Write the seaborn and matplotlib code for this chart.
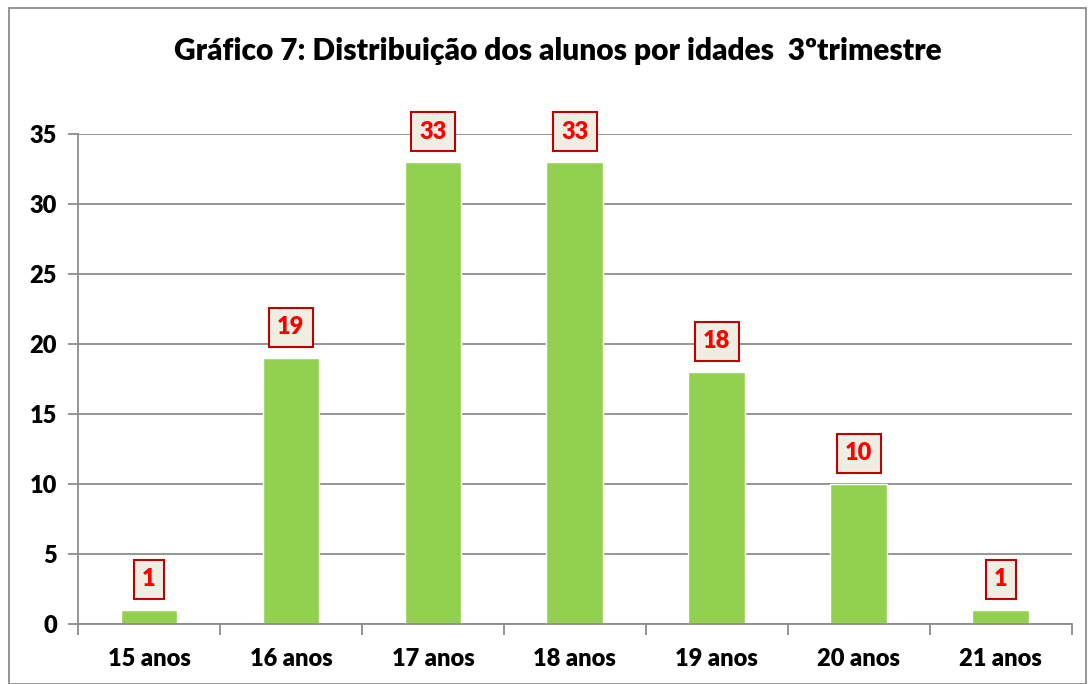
import matplotlib
matplotlib.use("Agg")
import matplotlib.pyplot as plt
import seaborn as sns
import pandas as pd
from matplotlib.patches import Rectangle

# chart data
idades = ["15 anos", "16 anos", "17 anos", "18 anos", "19 anos", "20 anos", "21 anos"]
alunos = [1, 19, 33, 33, 18, 10, 1]
y_ticks = [0, 5, 10, 15, 20, 25, 30, 35]

df = pd.DataFrame({"idade": idades, "alunos": alunos})

sns.set_theme(style="white")
plt.rcParams["font.family"] = ["Lato", "DejaVu Sans"]
plt.rcParams["font.weight"] = "heavy"
plt.rcParams["text.color"] = "black"
plt.rcParams["xtick.color"] = "black"
plt.rcParams["ytick.color"] = "black"

fig = plt.figure(figsize=(10.88, 6.84), dpi=100)
ax = fig.add_axes([0.0717, 0.0877, 0.9133, 0.7163])

sns.barplot(data=df, x="idade", y="alunos", color="#92D050", saturation=1,
            width=0.4, ax=ax)

grid_c = "#8C8C8C"
ax.set_ylim(0, 35)
ax.set_xlim(-0.5, len(idades) - 0.5)
ax.set_yticks(y_ticks)
ax.yaxis.grid(True, color=grid_c, linewidth=1.3)
ax.set_axisbelow(True)
for s in ["top", "right"]:
    ax.spines[s].set_visible(False)
for s in ["left", "bottom"]:
    ax.spines[s].set_color(grid_c)
    ax.spines[s].set_linewidth(1.3)

ax.set_xlabel("")
ax.set_ylabel("")

# tick marks between categories
ax.set_xticks([i - 0.5 for i in range(len(idades) + 1)], minor=True)
ax.tick_params(axis="x", which="minor", bottom=True, length=8, color=grid_c,
               width=1.3, direction="out")
ax.tick_params(axis="y", left=True, length=7, color=grid_c, width=1.3,
               labelsize=17, pad=8, labelcolor="black")
ax.tick_params(axis="x", which="major", bottom=False, length=0, labelsize=17, pad=17,
               labelcolor="black")
for lbl in ax.get_xticklabels() + ax.get_yticklabels():
    lbl.set_fontweight("heavy")

# data labels
for i, v in enumerate(alunos):
    ax.annotate(str(v), xy=(i, v), xytext=(0, 22), textcoords="offset points",
                ha="center", va="center", fontsize=17, fontweight="heavy", color="#FF0000",
                bbox=dict(boxstyle="square,pad=0.35", facecolor="#EEEFE2",
                          edgecolor="#C00000", linewidth=1.5),
                annotation_clip=False)

fig.text(0.513, 0.925, "Gráfico 7: Distribuição dos alunos por idades  3ºtrimestre",
         ha="center", va="center", fontsize=21.5, fontweight="heavy")

# outer frame
fig.patches.append(Rectangle((0.008, 0.0), 0.99, 0.988, transform=fig.transFigure,
                             fill=False, edgecolor=grid_c, linewidth=1.3))

fig.savefig("out.png", dpi=100)
